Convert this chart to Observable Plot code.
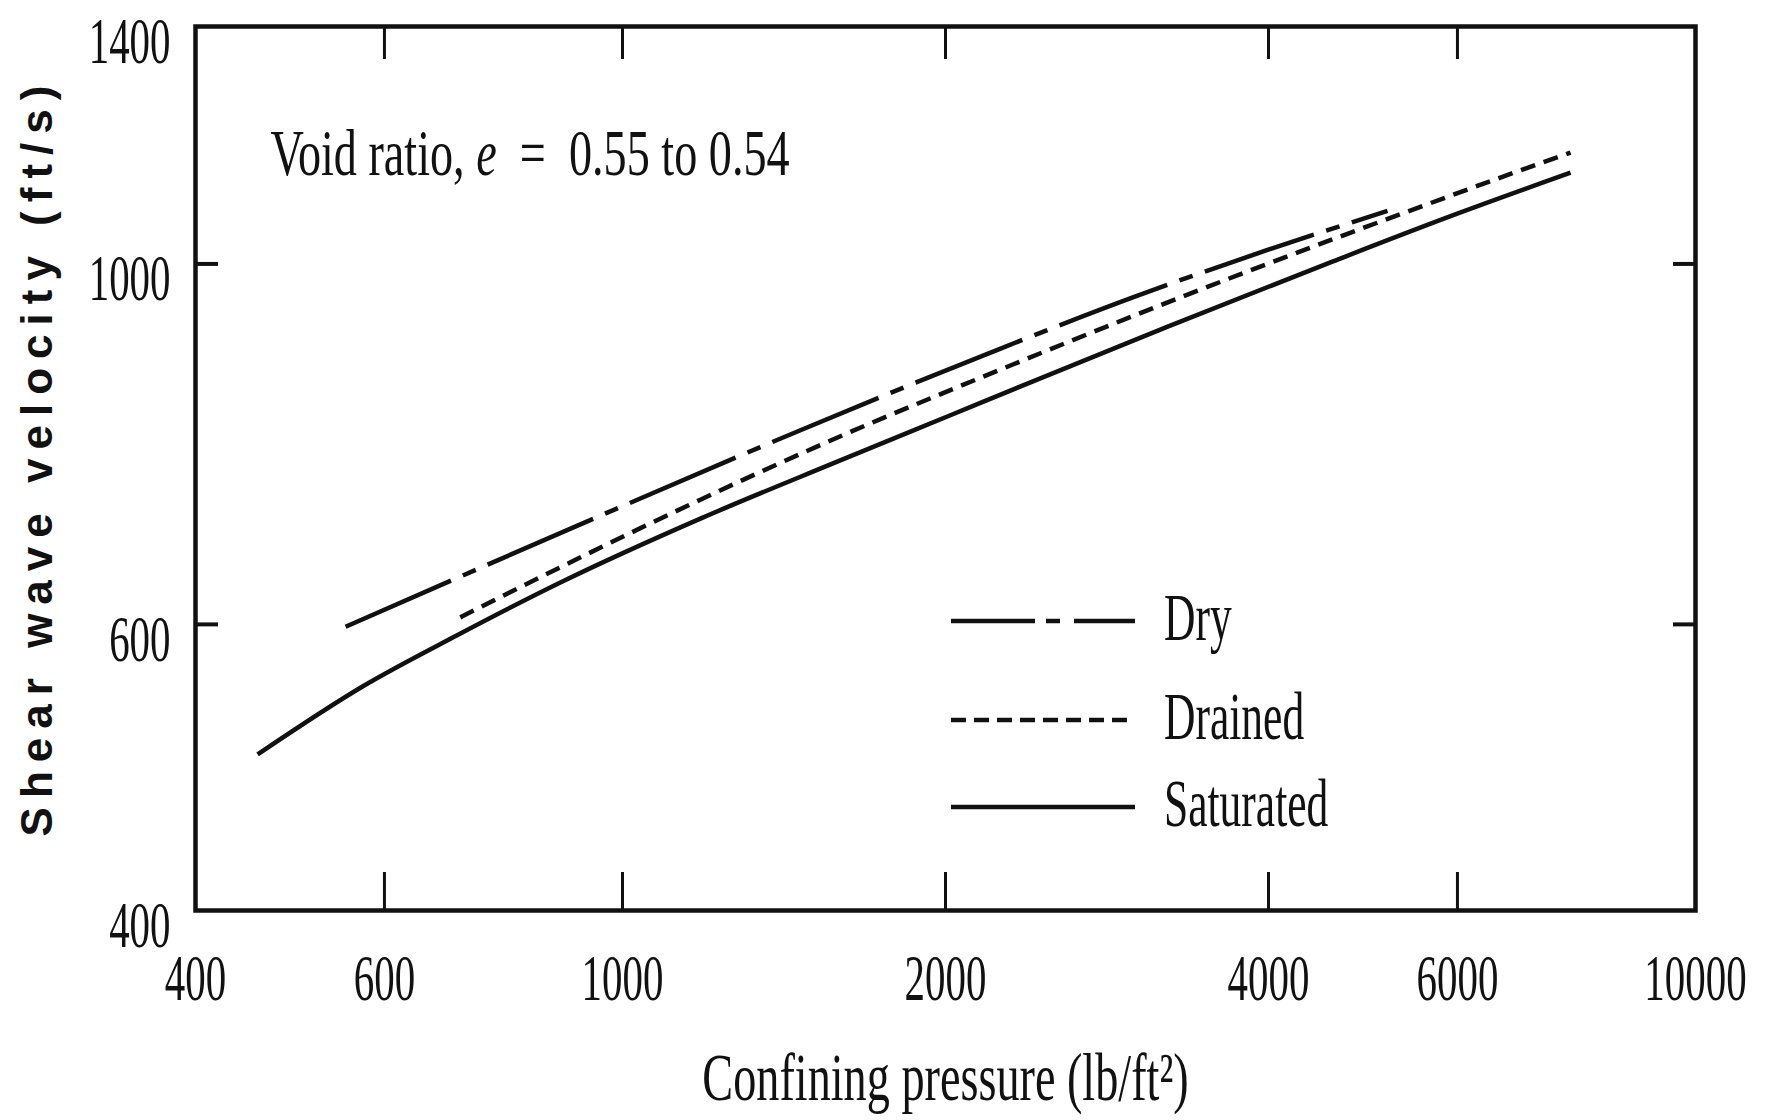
<!DOCTYPE html>
<html>
<head>
<meta charset="utf-8">
<script src="https://cdn.jsdelivr.net/npm/d3@7"></script>
<script src="https://cdn.jsdelivr.net/npm/@observablehq/plot@0.6"></script>
<style>
  html, body { margin: 0; padding: 0; background: #fff; }
  #wrap { position: relative; width: 1765px; height: 1120px; }
  #legend { position: absolute; left: 0; top: 0; pointer-events: none; }
</style>
</head>
<body>
<div id="wrap"></div>
<script>
// ---------- data ----------
const xTicks = [400, 600, 1000, 2000, 4000, 6000, 10000];
const yTicks = [400, 600, 1000, 1400];
const seriesNames = ["Dry", "Drained", "Saturated"];

const dryPressure = [552, 702, 954, 1465, 2251, 2994, 3992, 5164];
const dryVelocity = [598, 641, 700, 790, 887, 954, 1020, 1078];

const drainedPressure = [706, 881, 1182, 1573, 2251, 3222, 4600, 5309, 6723, 7648];
const drainedVelocity = [606, 652, 716, 780, 861, 947, 1036, 1073, 1136, 1171];

const saturatedPressure = [457, 574, 702, 881, 1182, 1573, 2021, 2416, 3222, 4600, 5912, 7648];
const saturatedVelocity = [499, 550, 591, 638, 697, 754, 807, 847, 915, 1004, 1070, 1138];

const xTitle = "Confining pressure (lb/ft²)";
const yTitle = "Shear wave velocity (ft/s)";
const note = "Void ratio, e = 0.55 to 0.54";

// ---------- build table ----------
const rows = [];
const pack = (name, P, V) => P.forEach((p, i) => rows.push({series: name, pressure: p, velocity: V[i]}));
pack("Dry", dryPressure, dryVelocity);
pack("Drained", drainedPressure, drainedVelocity);
pack("Saturated", saturatedPressure, saturatedVelocity);

const styles = {
  Dry: {dash: "115,13,14,13", legendDash: "84,11,14,14"},
  Drained: {dash: "15,9", legendDash: "15,8"},
  Saturated: {dash: null, legendDash: null}
};

const W = 1765, H = 1120;
const M = {top: 26, right: 70, bottom: 210, left: 195};
const plotW = W - M.left - M.right, plotH = H - M.top - M.bottom;
const xDomain = [xTicks[0], xTicks[xTicks.length - 1]];
const yDomain = [yTicks[0], yTicks[yTicks.length - 1]];
const innerX = xTicks.filter(v => v > xDomain[0] && v < xDomain[1]);
const innerY = yTicks.filter(v => v > yDomain[0] && v < yDomain[1]);
const ink = "#111";
const serif = "Liberation Serif";

const lineMarks = seriesNames.map(name =>
  Plot.line(rows.filter(d => d.series === name), {
    x: "pressure", y: "velocity",
    stroke: ink, strokeWidth: 4.5,
    strokeDasharray: styles[name].dash ?? undefined,
    strokeLinecap: "butt", strokeLinejoin: "round",
    curve: "monotone-x"
  })
);

const plot = Plot.plot({
  width: W, height: H,
  marginTop: M.top, marginRight: M.right, marginBottom: M.bottom, marginLeft: M.left,
  style: {background: "#fff"},
  x: {type: "log", domain: xDomain, axis: null},
  y: {type: "log", domain: yDomain, axis: null},
  marks: [
    // inward tick marks
    Plot.ruleX(innerX, {x: d => d, stroke: ink, strokeWidth: 3, insetTop: plotH - 38}),
    Plot.ruleX(innerX, {x: d => d, stroke: ink, strokeWidth: 3, insetBottom: plotH - 33}),
    Plot.ruleY(innerY, {y: d => d, stroke: ink, strokeWidth: 4, insetRight: plotW - 23}),
    Plot.ruleY(innerY, {y: d => d, stroke: ink, strokeWidth: 4, insetLeft: plotW - 22}),
    ...lineMarks,
    Plot.frame({stroke: ink, strokeWidth: 4.5}),
    // tick labels
    Plot.text(xTicks, {x: d => d, text: d => String(d), frameAnchor: "bottom", dy: 68,
      textAnchor: "middle", lineAnchor: "middle", fontSize: 66, fontFamily: serif, fill: ink}),
    Plot.text(yTicks, {y: d => d, text: d => String(d), frameAnchor: "left", dx: -25, dy: 15,
      textAnchor: "end", lineAnchor: "middle", fontSize: 66, fontFamily: serif, fill: ink}),
    // axis titles
    Plot.text([xTitle], {text: d => d, frameAnchor: "bottom", dy: 168, textAnchor: "middle", lineAnchor: "middle",
      fontSize: 68, fontFamily: serif, fill: ink}),
    Plot.text([yTitle], {text: d => d, frameAnchor: "left", dx: -158, dy: -12, rotate: -90,
      textAnchor: "middle", lineAnchor: "middle", fontSize: 44, fontWeight: "bold",
      fontFamily: "Liberation Sans", fill: ink}),
    // annotation
    Plot.text([note], {text: d => d, frameAnchor: "top-left", dx: 75, dy: 127, textAnchor: "start",
      lineAnchor: "middle", fontSize: 66, fontFamily: serif, fill: ink})
  ]
});

document.getElementById("wrap").appendChild(plot);

// ---------- post-processing of text ----------
function squeeze(t, sx) {
  const tr = t.getAttribute("transform");
  if (tr) t.setAttribute("transform", tr + ` scale(${sx},1)`);
  else {
    const x = +(t.getAttribute("x") || 0);
    t.removeAttribute("x");
    t.setAttribute("transform", `translate(${x},0) scale(${sx},1)`);
  }
}
plot.querySelectorAll("text").forEach(t => {
  const s = t.textContent;
  if (s === yTitle) { t.style.letterSpacing = "9px"; return; }
  if (s === xTitle) { squeeze(t, 0.68); return; }
  if (s === note) {
    squeeze(t, 0.70);
    t.textContent = "";
    const ns = "http://www.w3.org/2000/svg";
    const a = document.createElementNS(ns, "tspan"); a.textContent = "Void ratio, ";
    const b = document.createElementNS(ns, "tspan"); b.textContent = "e"; b.setAttribute("font-style", "italic");
    const c = document.createElementNS(ns, "tspan"); c.textContent = "\u00a0 = \u00a00.55 to 0.54";
    t.append(a, b, c);
    return;
  }
  if (/^\d+$/.test(s)) squeeze(t, 0.62);
});

// ---------- legend (overlay) ----------
const legendRowsY = [621, 720, 807];
const lg = d3.select("#wrap").append("svg").attr("id", "legend").attr("width", W).attr("height", H);
seriesNames.forEach((name, i) => {
  const y = legendRowsY[i];
  lg.append("line").attr("x1", 951).attr("x2", 1135).attr("y1", y).attr("y2", y)
    .attr("stroke", ink).attr("stroke-width", 4.5)
    .attr("stroke-dasharray", styles[name].legendDash)
    .attr("stroke-linecap", "butt");
  lg.append("text").attr("transform", `translate(1164,${y - 3}) scale(0.64,1)`)
    .attr("dy", "0.33em").attr("font-family", serif).attr("font-size", 68).attr("fill", ink)
    .text(name);
});
</script>
</body>
</html>
